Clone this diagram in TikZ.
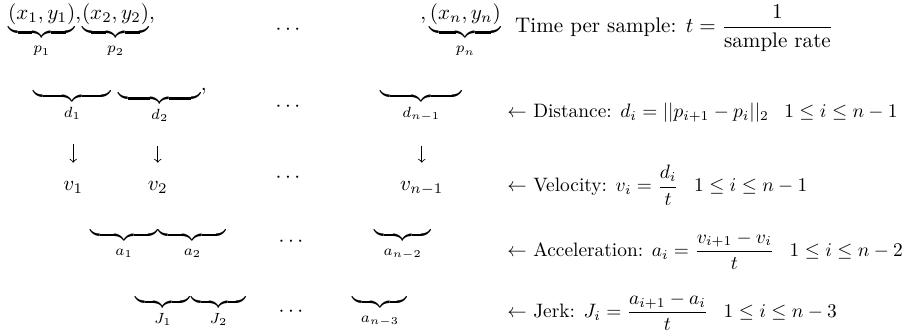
\documentclass[tikz,border=0pt]{standalone}
\usepackage{amsmath,amssymb}
\usepackage{tikz}
\usetikzlibrary{positioning}

% empty underbrace of a given width, with its label
\newcommand{\gapbrace}[2]{$\displaystyle\underbrace{\hspace{#1}}_{#2}$}
% space before the index range
\newcommand{\rangegap}{\hspace{8pt}}

\tikzset{
  formula/.style={anchor=base west, scale=0.92, transform shape},
  downarrow/.style={->, shorten <=0.36cm, shorten >=0.3cm}
}

\begin{document}
\begin{tikzpicture}[>=to, inner sep=0pt]
      \useasboundingbox (0,0) rectangle (15.1,-5.55);

      % samples
      \node[anchor=base west] (p1) at (0.13,-0.33) {$\displaystyle\underbrace{(x_1,y_1)}_{p_1},$};
      \node[anchor=base west] (p2) at (p1.base east) {$\displaystyle\underbrace{(x_2,y_2)}_{p_2},$};
      \node (pdots) at (4.83,-0.5) {$\cdots$};
      \node[anchor=base west] (pn) at (7.0,-0.33) {$\displaystyle,\underbrace{(x_n,y_n)}_{p_n}$};
      \node[anchor=base west] (time) at (8.58,-0.55) {Time per sample: $t=\dfrac{1}{\text{sample rate}}$};

      % distances
      \node[anchor=north west] (d1) at (0.55,-1.47) {\gapbrace{37pt}{d_1}};
      \node[anchor=north west] (d2) at (1.97,-1.47) {\gapbrace{39pt}{d_2}$,$};
      \node (ddots) at (4.83,-1.78) {$\cdots$};
      \node[anchor=north west] (dn1) at (6.33,-1.47) {\gapbrace{39pt}{d_{n-1}}};
      \node[formula] (dist) at (8.45,-1.96) {$\leftarrow$ Distance: $d_i=||p_{i+1}-p_i||_2\rangegap 1\le i\le n-1$};

      % velocities
      \node[anchor=base] (v1) at (1.22,-3.17) {$v_1$};
      \node[anchor=base] (v2) at (2.63,-3.17) {$v_2$};
      \node (vdots) at (4.83,-2.97) {$\cdots$};
      \node[anchor=base] (vn1) at (7.03,-3.17) {$v_{n-1}$};
      \node[formula] (vel) at (8.45,-3.2) {$\leftarrow$ Velocity: $v_i=\dfrac{d_i}{t}\rangegap 1\le i\le n-1$};

      \draw[downarrow] (d1.south -| v1) -- (v1.north);
      \draw[downarrow] (d2.south -| v2) -- (v2.north);
      \draw[downarrow] (dn1.south -| vn1) -- (vn1.north);

      % accelerations
      \node[anchor=north west] (a1) at (1.5,-3.78) {\gapbrace{32pt}{a_1}};
      \node[anchor=north west] (a2) at (a1.north east) {\gapbrace{32pt}{a_2}};
      \node (adots) at (4.88,-4.03) {$\cdots$};
      \node[anchor=north west] (an2) at (6.23,-3.78) {\gapbrace{27pt}{a_{n-2}}};
      \node[formula] (acc) at (8.45,-4.27) {$\leftarrow$ Acceleration: $a_i=\dfrac{v_{i+1}-v_i}{t}\rangegap 1\le i\le n-2$};

      % jerks
      \node[anchor=north west] (J1) at (2.25,-4.9) {\gapbrace{26pt}{J_1}};
      \node[anchor=north west] (J2) at (J1.north east) {\gapbrace{26pt}{J_2}};
      \node (Jdots) at (4.88,-5.2) {$\cdots$};
      \node[anchor=north west] (an3) at (5.87,-4.9) {\gapbrace{26pt}{a_{n-3}}};
      \node[formula] (jerk) at (8.45,-5.29) {$\leftarrow$ Jerk: $J_i=\dfrac{a_{i+1}-a_i}{t}\rangegap 1\le i\le n-3$};
    \end{tikzpicture}
\end{document}
